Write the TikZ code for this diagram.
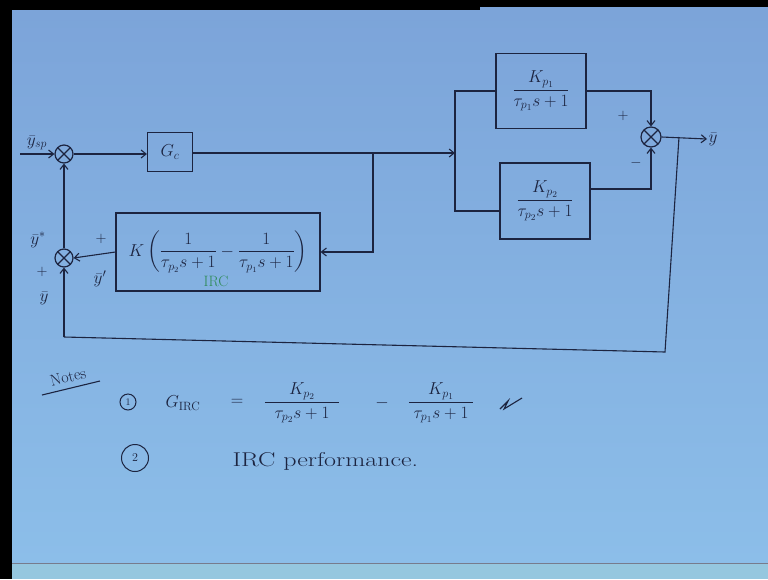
\documentclass[tikz,border=0pt]{standalone}
\usepackage{amsmath}
\usetikzlibrary{arrows.meta,calc}
\definecolor{ink}{HTML}{1C2440}
\definecolor{paperT}{HTML}{7CA4D9}
\definecolor{paperB}{HTML}{8CBEE9}
\definecolor{band}{HTML}{95C7DF}
\definecolor{ircg}{HTML}{2E8B57}
\begin{document}
\begin{tikzpicture}[x=1pt,y=-1pt,line width=1.1pt,color=ink,
  >={Straight Barb[length=5pt,width=8pt]},
  blk/.style={draw,line width=1.2pt,inner sep=0pt,font=\fontsize{18}{21}\selectfont},
  sumj/.style={circle,draw,line width=1.2pt,minimum size=18pt,inner sep=0pt,
    path picture={\draw[line width=1.1pt] (path picture bounding box.north west)--(path picture bounding box.south east)
      (path picture bounding box.north east)--(path picture bounding box.south west);}},
  lbl/.style={inner sep=1pt,font=\fontsize{17}{20}\selectfont},
  sgn/.style={inner sep=1pt,font=\fontsize{14}{16}\selectfont},
  eqp/.style={inner sep=0pt,font=\fontsize{18}{21}\selectfont}]
\useasboundingbox (0,0) rectangle (768,579);
% background
\fill[black] (0,0) rectangle (768,579);
\shade[top color=paperT,bottom color=paperB] (12,10) rectangle (768,563);
\shade[top color=paperT,bottom color=paperT] (480,7) rectangle (768,10);
\fill[band] (12,563) rectangle (768,579);
\draw[ink!60,line width=0.6pt] (12,563) -- (768,563);

% blocks
\node[sumj] (s1) at (64,154) {};
\node[blk,minimum width=45pt,minimum height=39pt] (gc) at (170,152) {$G_c$};
\node[blk,minimum width=90pt,minimum height=75pt] (p1) at (541,91) {$\dfrac{\;K_{p_1}\;}{\tau_{p_1}s+1}$};
\node[blk,minimum width=90pt,minimum height=76pt] (p2) at (545,201) {$\dfrac{\;K_{p_2}\;}{\tau_{p_2}s+1}$};
\node[sumj,minimum size=20pt] (s2) at (651,137) {};
\node[sumj] (s3) at (64,258) {};
\node[blk,minimum width=204pt,minimum height=78pt,font=\fontsize{17}{20}\selectfont] (irc) at (218,252)
  {\raisebox{4pt}{$K\left(\dfrac{1}{\tau_{p_2}s+1}-\dfrac{1}{\tau_{p_1}s+1}\right)$}};
\node[inner sep=0pt,text=ircg,font=\fontsize{15}{18}\selectfont] (irclbl) at (216,281) {IRC};

% coordinates
\coordinate (in) at (20,154);
\coordinate (sp) at (455,153);
\coordinate (br) at (373,153);
\coordinate (fb) at (679,137);
\coordinate (c1) at (665,352);
\coordinate (c2) at (64,337);

% connectors
\draw[->] (in) -- (s1);
\draw[->] (s1) -- (gc.west |- s1);
\draw[->] (gc.east |- sp) -- (sp);
\draw (p1.west) -| (sp) |- ([yshift=-10pt]p2.west);
\draw[->] (br) |- (irc.east);
\draw[->] (p1.east) -| (s2.north);
\draw[->] ([yshift=12pt]p2.east) -| (s2.south);
\node[lbl,anchor=west] (yout) at (707,139) {$\bar{y}$};
\draw[->] (s2.east) -- (yout.west);
\draw (fb) -- (c1) -- (c2);
\draw[->] (c2) -- (s3.south);
\draw[->] (s3.north) -- (s1.south);
\draw[->] (irc.west) -- (s3.east);

% labels
\node[lbl] (lsp) at (37,143) {$\bar{y}_{sp}$};
\node[lbl] (lys) at (38,240) {$\bar{y}^{*}$};
\node[sgn] (pl1) at (101,239) {$+$};
\node[lbl] (lyp) at (100,279) {$\bar{y}'$};
\node[sgn] (pl2) at (42,272) {$+$};
\node[lbl] (lyb) at (44,298) {$\bar{y}$};
\node[sgn] (pl3) at (623,116) {$+$};
\node[sgn] (mi1) at (636,163) {$-$};

% notes
\node[inner sep=0pt,rotate=14,font=\fontsize{16}{18}\selectfont] (notes) at (68,377) {Notes};
\draw[line width=1.1pt] (42,395) -- (100,381);
\node[circle,draw,line width=1pt,minimum size=16pt,inner sep=0pt,font=\fontsize{10}{12}\selectfont] (n1) at (128,402) {1};
\node[eqp] (gi) at (183,403) {$G_{\mathrm{IRC}}$};
\node[eqp] (eqs) at (237,402) {$=$};
\node[eqp] (f1) at (302,403) {$\dfrac{\quad K_{p_2}\quad}{\;\;\tau_{p_2}s+1\;\;}$};
\node[eqp] (mn) at (382,403) {$-$};
\node[eqp] (f2) at (441,403) {$\dfrac{\;K_{p_1}\;}{\;\tau_{p_1}s+1\;}$};
\draw[line width=1.1pt] (500,409) -- (508,401) -- (504,409) -- (522,398);
\node[circle,draw,line width=1pt,minimum size=27pt,inner sep=0pt,font=\fontsize{12}{14}\selectfont] (n2) at (135,458) {2};
\node[anchor=west,inner sep=0pt,font=\fontsize{20}{24}\selectfont] (perf) at (232,461) {\scalebox{1.3}[1]{IRC performance.}};
\end{tikzpicture}
\end{document}
